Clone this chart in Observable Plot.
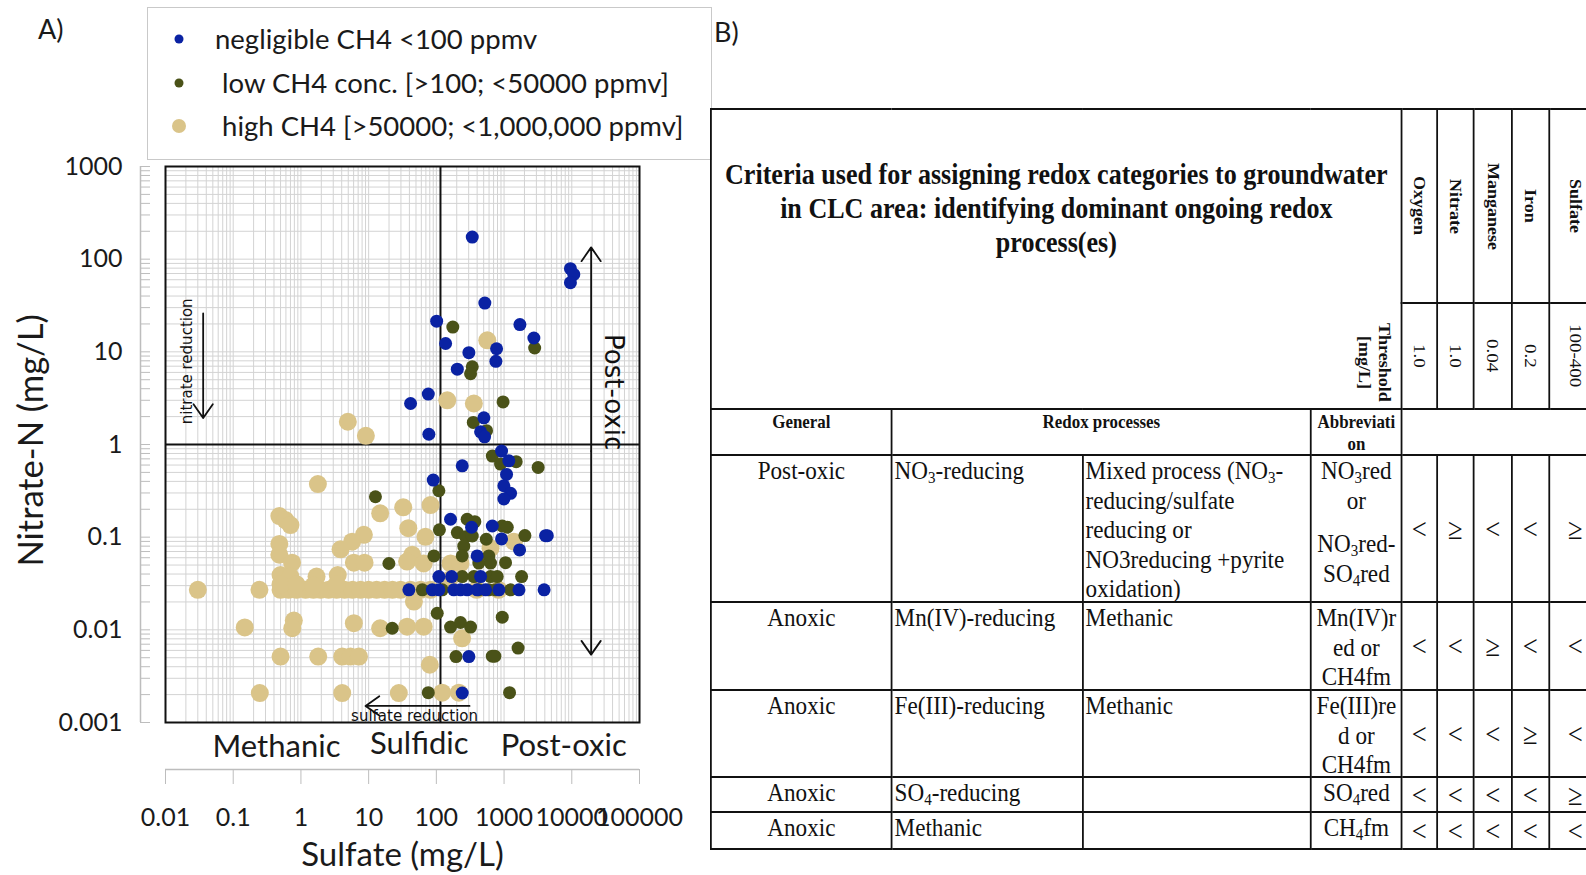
<!DOCTYPE html>
<html><head><meta charset="utf-8">
<script src="https://cdn.jsdelivr.net/npm/d3@7"></script>
<script src="https://cdn.jsdelivr.net/npm/@observablehq/plot@0.6"></script>
<style>
html,body{margin:0;padding:0;width:1586px;height:875px;overflow:hidden;background:#fff;}
#chart{position:absolute;left:0;top:0;}
.panel{position:absolute;font-family:Lato,sans-serif;font-size:27px;color:#1a1a1a;line-height:1;}
#legend{position:absolute;left:147px;top:7px;width:563px;height:151px;border:1px solid #c9c9c9;background:#fff;font-family:Lato,sans-serif;font-size:27.5px;color:#1a1a1a;}
#legend .row{position:absolute;left:0;height:30px;line-height:30px;white-space:nowrap;}
#legend svg{position:absolute;left:16px;top:0;}
#tbl{position:absolute;left:710px;top:108px;transform:scaleX(0.89);transform-origin:0 0;}
#tbl table{border-collapse:collapse;table-layout:fixed;width:1001px;font-family:"Liberation Serif",serif;color:#111;}
#tbl td{border:2px solid #111;padding:0;vertical-align:top;}
#tbl sub{font-size:0.65em;vertical-align:-0.25em;line-height:0;}
.vert{display:inline-block;writing-mode:vertical-rl;white-space:nowrap;}
.cell{overflow:visible;white-space:nowrap;}
.sym{text-align:center;font-size:30px;display:flex;align-items:center;justify-content:center;}
.txt{font-size:26px;line-height:29.5px;}
.hdr{font-weight:bold;font-size:19px;line-height:22px;text-align:center;padding-top:1px;box-sizing:border-box;}
</style>
</head><body>
<div id="chart"></div>
<div class="panel" style="left:38px;top:15px;">A)</div>
<div class="panel" style="left:714px;top:18px;">B)</div>
<div id="legend"></div>
<div id="tbl"></div>
<script>
// ---------- Panel A data ----------
const xDecades = [0.01, 0.1, 1, 10, 100, 1000, 10000, 100000];
const xTickLabels = ["0.01", "0.1", "1", "10", "100", "1000", "10000", "100000"];
const yDecades = [0.001, 0.01, 0.1, 1, 10, 100, 1000];
const yTickLabels = ["0.001", "0.01", "0.1", "1", "10", "100", "1000"];
const minorMultipliers = [1, 2, 3, 4, 5, 6, 7, 8, 9];

const seriesNames = ["negligible CH4 <100 ppmv", " low CH4 conc. [>100; <50000 ppmv]", " high CH4 [>50000; <1,000,000 ppmv]"];
const seriesColors = ["#0a22a3", "#4a5218", "#dac489"];

// negligible CH4 (blue): sulfate, nitrate (mg/L)
const negligibleSulfate = [339, 9550, 10700, 9550, 520, 101, 1714, 2754, 137, 775, 302, 757, 204, 76, 41.6, 503, 77.5, 450, 515, 918,
  1175, 241, 90, 1088, 993, 1247, 993, 162, 670, 918, 331, 4100, 4350, 1695, 400, 109, 168, 450,
  39.3, 87, 109, 181, 227, 285, 400, 533, 840, 1660, 3900, 302, 241];
const negligibleNitrate = [173, 79, 68.5, 55.8, 33.6, 21.4, 19.7, 14.1, 12.3, 10.8, 9.8, 7.9, 6.5, 3.5, 2.77, 1.94, 1.29, 1.37, 1.21, 0.85,
  0.667, 0.589, 0.413, 0.476, 0.359, 0.297, 0.258, 0.156, 0.132, 0.0957, 0.128, 0.1037, 0.1037, 0.0728, 0.0627, 0.0376, 0.0376, 0.0376,
  0.027, 0.027, 0.027, 0.027, 0.027, 0.027, 0.027, 0.027, 0.027, 0.027, 0.027, 0.00515, 0.00208];

// low CH4 (olive)
const lowSulfate = [175, 2830, 339, 320, 966, 351, 551, 670, 887, 1510, 3185, 109, 12.6, 285, 370, 111, 204, 270, 339, 546,
  940, 1115, 2030, 254, 92, 241, 424, 596, 631, 1052, 19.9, 241, 358, 631, 792, 1815,
  62, 122, 424, 596, 748, 1247, 103, 940, 162, 227, 320, 22.3, 1610, 195, 670, 731, 76, 1205];
const lowNitrate = [18.5, 11.0, 6.9, 5.8, 2.88, 1.73, 1.41, 0.75, 0.615, 0.652, 0.566, 0.317, 0.273, 0.156, 0.147, 0.120, 0.112, 0.101, 0.103, 0.095,
  0.132, 0.128, 0.104, 0.080, 0.0627, 0.0627, 0.0525, 0.0627, 0.0525, 0.053, 0.052, 0.0376, 0.0376, 0.0376, 0.0376, 0.0376,
  0.027, 0.027, 0.027, 0.027, 0.027, 0.027, 0.0151, 0.0137, 0.0107, 0.012, 0.0107, 0.0104, 0.00635, 0.00515, 0.0052, 0.0052, 0.0021, 0.0021];

// high CH4 (tan)
const highSulfate = [4.93, 9.1, 565, 145, 358,
  1.78, 14.8, 0.48, 0.59, 0.70, 8.5, 5.7, 3.85, 0.48, 0.48, 0.74, 6.05, 8.7, 0.5, 0.70, 1.70, 3.5,
  32.4, 82, 38.5, 69, 44, 37, 65, 1400, 631, 162, 227, 154,
  0.030, 0.244, 0.50, 0.656, 0.86, 1.17, 1.53, 1.95, 2.56, 3.36, 4.41, 5.78, 7.59, 9.97, 13.1, 17.2, 22.5, 29.6, 41.6, 58.5, 82, 393, 830,
  0.5, 0.86, 1.53, 3.36,
  46.6, 240, 14.8, 37, 65, 80, 122, 215, 0.148, 0.785, 0.745, 6.05, 0.5, 1.8, 4.07, 5.4, 7.2, 0.247, 4.07, 27.9];
const highNitrate = [1.76, 1.24, 13.3, 3.0, 2.77,
  0.374, 0.181, 0.169, 0.153, 0.135, 0.106, 0.0895, 0.074, 0.0845, 0.0646, 0.053, 0.053, 0.053, 0.039, 0.0376, 0.0376, 0.039,
  0.21, 0.222, 0.125, 0.101, 0.0646, 0.0545, 0.052, 0.0895, 0.076, 0.052, 0.052, 0.0346,
  0.027, 0.027, 0.027, 0.027, 0.027, 0.027, 0.027, 0.027, 0.027, 0.027, 0.027, 0.027, 0.027, 0.027, 0.027, 0.027, 0.027, 0.027, 0.027, 0.027, 0.027, 0.027, 0.027,
  0.031, 0.031, 0.030, 0.031,
  0.0202, 0.0081, 0.0104, 0.0108, 0.0108, 0.0042, 0.0021, 0.0021, 0.0106, 0.0126, 0.0104, 0.0118, 0.00515, 0.00515, 0.00515, 0.00515, 0.00515, 0.00208, 0.00208, 0.00208];

// zone boundaries & annotation anchors (data units)
const sulfateDivider = 115;
const nitrateDivider = 1;
const zoneLabels = ["Methanic", "Sulfidic", "Post-oxic"];
const zoneLabelSulfate = [0.436, 56, 7600];
const zoneLabelNitrate = [0.00054, 0.00058, 0.00056];
const arrowX1 = [0.036, 19300, 19300, 309];
const arrowY1 = [26, 0.85, 0.85, 0.00151];
const arrowX2 = [0.036, 19300, 19300, 9.0];
const arrowY2 = [1.93, 134, 0.0054, 0.00151];
const noteTexts = ["nitrate reduction", "Post-oxic", "sulfate reduction"];
const noteSulfate = [0.0209, 41400, 47.6];
const noteNitrate = [7.9, 3.67, 0.00118];
const noteRotate = [-90, 90, 0];
const noteSize = [15, 26, 15];

// ---------- Panel B data ----------
const tableTitleLines = ["Criteria used for assigning redox categories to groundwater", "in CLC area: identifying dominant ongoing redox", "process(es)"];
const thresholdLabel = ["Threshold", "[mg/L]"];
const elementNames = ["Oxygen", "Nitrate", "Manganese", "Iron", "Sulfate"];
const thresholds = ["1.0", "1.0", "0.04", "0.2", "100-400"];
const headerGeneral = "General";
const headerProcesses = "Redox processes";
const headerAbbrev = ["Abbreviati", "on"];
const generalCol = ["Post-oxic", "Anoxic", "Anoxic", "Anoxic", "Anoxic"];
const processCol = ["NO<sub>3</sub>-reducing", "Mn(IV)-reducing", "Fe(III)-reducing", "SO<sub>4</sub>-reducing", "Methanic"];
const detailCol = [["Mixed process (NO<sub>3</sub>-", "reducing/sulfate", "reducing or", "NO3reducing +pyrite", "oxidation)"], ["Methanic"], ["Methanic"], [], []];
const abbrevCol = [["NO<sub>3</sub>red", "or"], ["Mn(IV)r", "ed or", "CH4fm"], ["Fe(III)re", "d or", "CH4fm"], ["SO<sub>4</sub>red"], ["CH<sub>4</sub>fm"]];
const abbrevExtra = ["NO<sub>3</sub>red-", "SO<sub>4</sub>red"];
const comparisons = [
  ["<", "≥", "<", "<", "≥"],
  ["<", "<", "≥", "<", "<"],
  ["<", "<", "<", "≥", "<"],
  ["<", "<", "<", "<", "≥"],
  ["<", "<", "<", "<", "<"]
];

// ---------- build panel A ----------
const toRows = (xs, ys, k) => xs.map((s, i) => ({sulfate: s, nitrate: ys[i], group: k}));
const high = toRows(highSulfate, highNitrate, 2);
const low = toRows(lowSulfate, lowNitrate, 1);
const negl = toRows(negligibleSulfate, negligibleNitrate, 0);

const xMinor = xDecades.slice(0, -1).flatMap(d => minorMultipliers.map(m => d * m)).concat([xDecades[xDecades.length - 1]]);
const yMinor = yDecades.slice(0, -1).flatMap(d => minorMultipliers.map(m => d * m)).concat([yDecades[yDecades.length - 1]]);
const arrows = arrowX1.map((x, i) => ({x1: x, y1: arrowY1[i], x2: arrowX2[i], y2: arrowY2[i]}));
const notes = noteTexts.map((t, i) => ({t, x: noteSulfate[i], y: noteNitrate[i], r: noteRotate[i], s: noteSize[i]}));
const zones = zoneLabels.map((t, i) => ({t, x: zoneLabelSulfate[i], y: zoneLabelNitrate[i]}));

const gray = "#bdbdbd";
const fontMain = "Lato, sans-serif";
const fontNote = "DejaVu Sans, sans-serif";

const plot = Plot.plot({
  width: 700, height: 875,
  marginLeft: 165, marginRight: 61, marginTop: 166, marginBottom: 153,
  x: {type: "log", domain: [xDecades[0], xDecades[xDecades.length - 1]]},
  y: {type: "log", domain: [yDecades[0], yDecades[yDecades.length - 1]]},
  style: {fontFamily: fontMain, fontSize: "25px", color: "#1a1a1a", background: "transparent", overflow: "visible"},
  marks: [
    Plot.ruleX(xMinor, {stroke: "#d3d3d3", strokeWidth: 1}),
    Plot.ruleY(yMinor, {stroke: "#d3d3d3", strokeWidth: 1}),
    // left gray y axis with minor ticks
    Plot.ruleX([xDecades[0]], {dx: -25, stroke: gray, strokeWidth: 1.5}),
    Plot.axisY({ticks: yMinor, tickSize: 10, dx: -15, stroke: gray, tickFormat: () => "", label: null}),
    Plot.axisY({ticks: yDecades, tickSize: 0, tickPadding: 43, fontSize: 25, fill: "#1a1a1a",
      tickFormat: d => yTickLabels[yDecades.indexOf(d)], label: null}),
    // detached x axis below
    Plot.ruleY([yDecades[0]], {dy: 47, stroke: gray, strokeWidth: 1.5}),
    Plot.axisX({ticks: xDecades, tickSize: 15, dy: 47, tickPadding: 24, stroke: gray, fill: "#1a1a1a", fontSize: 25,
      tickFormat: d => xTickLabels[xDecades.indexOf(d)], label: null}),
    // quadrants
    Plot.frame({stroke: "#111", strokeWidth: 2}),
    Plot.ruleX([sulfateDivider], {stroke: "#111", strokeWidth: 2}),
    Plot.ruleY([nitrateDivider], {stroke: "#111", strokeWidth: 2}),
    // points
    Plot.dot(high, {x: "sulfate", y: "nitrate", r: 9, fill: seriesColors[2]}),
    Plot.dot(low, {x: "sulfate", y: "nitrate", r: 6.5, fill: seriesColors[1]}),
    Plot.dot(negl, {x: "sulfate", y: "nitrate", r: 6.5, fill: seriesColors[0]}),
    // annotations
    Plot.arrow(arrows, {x1: "x1", y1: "y1", x2: "x2", y2: "y2", stroke: "#111", strokeWidth: 1.8, headLength: 14, headAngle: 70}),
    Plot.text(notes, {x: "x", y: "y", text: "t", rotate: "r", fontSize: "s", fontFamily: fontNote, fill: "#111"}),
    Plot.text(zones, {x: "x", y: "y", text: "t", fontSize: 31, fontFamily: fontMain, fill: "#1a1a1a"}),
    // axis titles
    Plot.text(["Nitrate-N (mg/L)"], {frameAnchor: "left", textAnchor: "middle", lineAnchor: "middle", dx: -134, dy: -4, rotate: -90, fontSize: 34.5, fontFamily: fontMain, fill: "#1a1a1a"}),
    Plot.text(["Sulfate (mg/L)"], {frameAnchor: "bottom", textAnchor: "middle", lineAnchor: "middle", dy: 133, fontSize: 33, fontFamily: fontMain, fill: "#1a1a1a"})
  ]
});
document.getElementById("chart").appendChild(plot);

// legend
const legend = document.getElementById("legend");
const legendRowY = [31, 75, 118];
const legendTextX = [67, 67, 67];
const legendR = [4.5, 4.5, 7];
seriesNames.forEach((name, i) => {
  const row = document.createElement("div");
  row.className = "row";
  row.style.top = (legendRowY[i] - 15) + "px";
  row.style.width = "560px";
  row.innerHTML = `<svg width="30" height="30"><circle cx="15" cy="15" r="${legendR[i]}" fill="${seriesColors[i]}"/></svg>` +
    `<span style="position:absolute;left:${legendTextX[i]}px;white-space:pre;">${name.replace(/</g, "&lt;").replace(/>/g, "&gt;")}</span>`;
  legend.appendChild(row);
});

// ---------- build panel B ----------
const colW = [203.4, 214.6, 256.2, 102.2, 39.3, 41.6, 42.7, 41.6, 59.4];
const rowH = [145, 86, 85, 33, 35];
let h = `<table><colgroup>${colW.map(w => `<col style="width:${w}px">`).join("")}</colgroup>`;
h += `<tr><td colspan="4" rowspan="2"><div style="position:relative;height:298px;">
  <div style="padding-top:47px;text-align:center;font-weight:bold;font-size:29.3px;line-height:34px;white-space:nowrap;">${tableTitleLines.join("<br>")}</div>
  <div class="vert" style="position:absolute;right:8px;bottom:6px;font-weight:bold;font-size:18px;line-height:22px;text-align:center;">${thresholdLabel.join("<br>")}</div>
  </div></td>`;
h += elementNames.map(n => `<td style="vertical-align:middle;"><div style="height:192px;display:flex;align-items:center;justify-content:center;"><span class="vert" style="font-weight:bold;font-size:18px;">${n}</span></div></td>`).join("") + `</tr>`;
h += `<tr>` + thresholds.map(t => `<td><div style="height:104px;display:flex;align-items:center;justify-content:center;"><span class="vert" style="font-size:19px;">${t}</span></div></td>`).join("") + `</tr>`;
h += `<tr><td><div class="hdr" style="height:44px;">${headerGeneral}</div></td><td colspan="2"><div class="hdr" style="height:44px;">${headerProcesses}</div></td><td><div class="hdr" style="height:44px;">${headerAbbrev.join("<br>")}</div></td><td colspan="5"><div style="height:44px;"></div></td></tr>`;
generalCol.forEach((g, i) => {
  let abbr = abbrevCol[i].join("<br>");
  if (i === 0) abbr += `<div style="height:14px"></div>` + abbrevExtra.join("<br>");
  const H = rowH[i];
  h += `<tr><td><div class="cell txt" style="height:${H}px;text-align:center;">${g}</div></td>`;
  h += `<td><div class="cell txt" style="height:${H}px;padding-left:2px;">${processCol[i]}</div></td>`;
  h += `<td><div class="cell txt" style="height:${H}px;padding-left:2px;">${detailCol[i].join("<br>")}</div></td>`;
  h += `<td><div class="cell txt" style="height:${H}px;text-align:center;">${abbr}</div></td>`;
  h += comparisons[i].map(c => `<td><div class="sym" style="height:${H}px;">${c}</div></td>`).join("") + `</tr>`;
});
h += `</table>`;
document.getElementById("tbl").innerHTML = h;
</script>
</body></html>
